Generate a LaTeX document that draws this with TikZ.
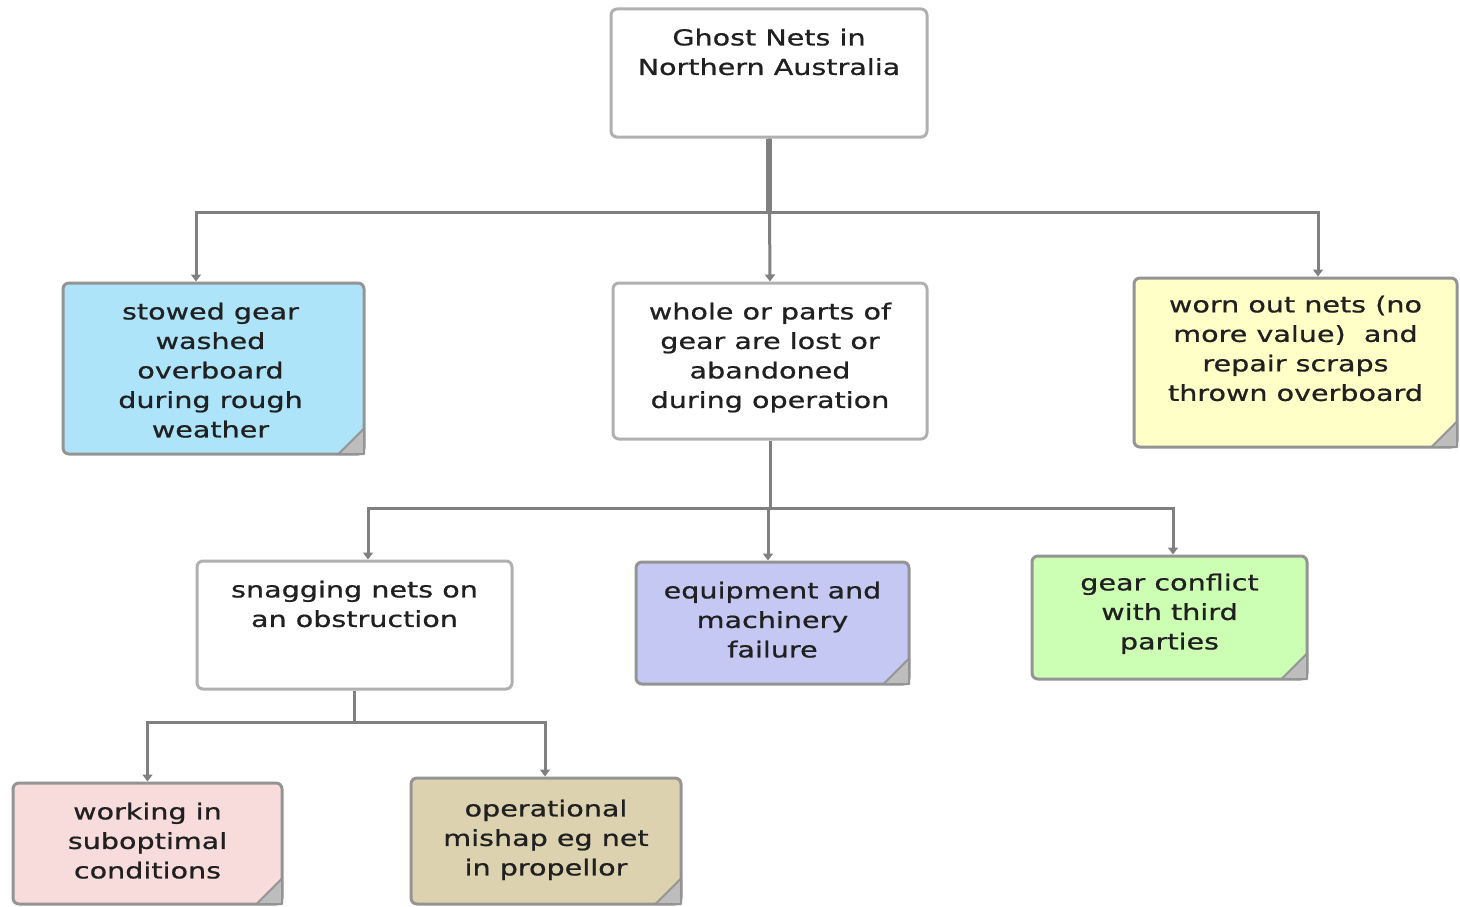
\documentclass[tikz,border=0pt]{standalone}
\usepackage{fontspec}
\newfontfamily\nfont[FakeStretch=1.3,FakeBold=0.8]{DejaVu Sans}
\usetikzlibrary{arrows.meta}
\definecolor{cblue}{HTML}{ADE4FA}
\definecolor{cyellow}{HTML}{FFFFC8}
\definecolor{clav}{HTML}{C4C8F2}
\definecolor{cgreen}{HTML}{CCFFB4}
\definecolor{cpink}{HTML}{F8DCDC}
\definecolor{ctan}{HTML}{DCD2B0}
\definecolor{bordc}{HTML}{949494}
\definecolor{wbordc}{HTML}{B0B0B0}
\definecolor{connc}{HTML}{808080}
\definecolor{foldc}{HTML}{BDBDBD}
\definecolor{txtc}{HTML}{202020}
\newcommand\mkfold[1]{\filldraw[fill=foldc, draw=bordc, line width=2pt, line join=round]
  ([xshift=-27pt,yshift=1.5pt]#1.south east) -- ([xshift=-1.5pt,yshift=27pt]#1.south east) -- ([xshift=-1.5pt,yshift=1.5pt]#1.south east) -- cycle;}
\begin{document}
\begin{tikzpicture}[x=1pt,y=-1pt,
  box/.style={draw=bordc, line width=3pt, rounded corners=6pt, inner sep=0pt},
  wbox/.style={box, draw=wbordc, fill=white},
  txt/.style={font=\nfont\fontsize{22}{29.5}\selectfont, align=center, inner sep=0pt,
    text=txtc, anchor=north, execute at begin node={\rule{0pt}{22pt}}},
  conn/.style={draw=connc, line width=3pt},
  arr/.style={conn, -{Triangle[length=7pt,width=10pt]}},
]
\useasboundingbox (0,0) rectangle (1460,907);
% boxes
\node[wbox, minimum width=316pt, minimum height=128pt] (top) at (769,73) {};
\node[box, fill=cblue, minimum width=301pt, minimum height=171pt] (stowed) at (213.5,368.5) {};
\node[wbox, minimum width=314pt, minimum height=156pt] (whole) at (770,361) {};
\node[box, fill=cyellow, minimum width=323pt, minimum height=169pt] (worn) at (1295.5,362.5) {};
\node[wbox, minimum width=315pt, minimum height=128pt] (snag) at (354.5,625) {};
\node[box, fill=clav, minimum width=273pt, minimum height=122pt] (equip) at (772.5,623) {};
\node[box, fill=cgreen, minimum width=275pt, minimum height=123pt] (gear) at (1169.5,617.5) {};
\node[box, fill=cpink, minimum width=269pt, minimum height=121pt] (work) at (147.5,843.5) {};
\node[box, fill=ctan, minimum width=270pt, minimum height=126pt] (oper) at (546,841) {};
\mkfold{stowed}\mkfold{worn}\mkfold{equip}\mkfold{gear}\mkfold{work}\mkfold{oper}
% texts
\node[txt] (topT) at ([yshift=-21pt]top.north) {Ghost Nets in\\Northern Australia};
\node[txt] (stowedT) at ([yshift=-21pt,xshift=-3pt]stowed.north) {stowed gear\\washed\\overboard\\during rough\\weather};
\node[txt] (wholeT) at ([yshift=-21pt]whole.north) {whole or parts of\\gear are lost or\\abandoned\\during operation};
\node[txt] (wornT) at ([yshift=-19pt]worn.north) {worn out nets (no\\more value)\ \ and\\repair scraps\\thrown overboard};
\node[txt] (snagT) at ([yshift=-21pt]snag.north) {snagging nets on\\an obstruction};
\node[txt] (equipT) at ([yshift=-21pt]equip.north) {equipment and\\machinery\\failure};
\node[txt] (gearT) at ([yshift=-19pt]gear.north) {gear conflict\\with third\\parties};
\node[txt] (workT) at ([yshift=-21pt]work.north) {working in\\suboptimal\\conditions};
\node[txt] (operT) at ([yshift=-23pt]oper.north) {operational\\mishap eg net\\in propellor};
% connectors
\coordinate (bus1) at (770,212);
\coordinate (bus2) at (768,508);
\coordinate (bus3) at (355,722);
\draw[connc, line width=6pt] (top.south) -- (top.south |- bus1);
\draw[arr] (top.south |- bus1) -| ([xshift=-17.5pt]stowed.north);
\draw[arr] (top.south) -- (whole.north);
\draw[arr] (top.south |- bus1) -| ([xshift=22.5pt]worn.north);
\draw[arr] (whole.south) -- (whole.south |- bus2) -| ([xshift=13.5pt]snag.north);
\draw[arr] (whole.south |- bus2) -| ([xshift=-4.5pt]equip.north);
\draw[arr] (whole.south |- bus2) -| ([xshift=3.5pt]gear.north);
\draw[arr] (snag.south) -- (snag.south |- bus3) -| (work.north);
\draw[arr] (snag.south |- bus3) -| ([xshift=-1pt]oper.north);
\end{tikzpicture}
\end{document}
